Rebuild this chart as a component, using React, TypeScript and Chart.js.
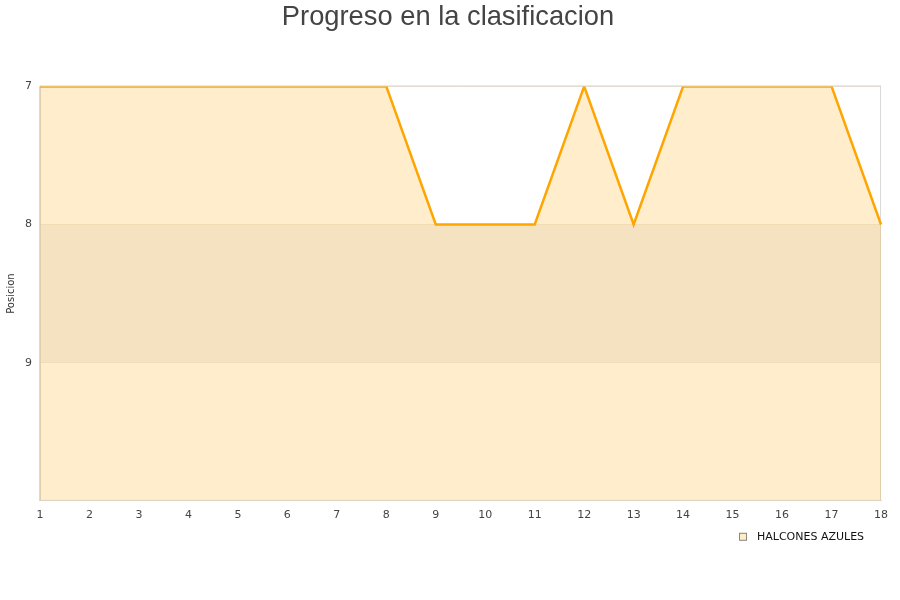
import React, { useEffect, useRef } from "react";
import { Chart, registerables } from "chart.js";

Chart.register(...registerables);

const jornadas = ["1", "2", "3", "4", "5", "6", "7", "8", "9", "10", "11", "12", "13", "14", "15", "16", "17", "18"];
const posiciones = [7, 7, 7, 7, 7, 7, 7, 7, 8, 8, 8, 7, 8, 7, 7, 7, 7, 8];
const equipo = "HALCONES AZULES";
const titulo = "Progreso en la clasificacion";
const ejeY = "Posicion";

// alternating background bands, plot frame, title and the legend entry
const decorPlugin = {
  id: "decor",
  beforeDatasetsDraw(chart: any) {
    const { ctx, chartArea, scales } = chart;
    const y = scales.y;
    ctx.save();
    ctx.fillStyle = "#f2f2f2";
    for (let v = 8; v < 10; v += 2) {
      const a = y.getPixelForValue(v);
      const b = y.getPixelForValue(v + 1);
      ctx.fillRect(chartArea.left, Math.min(a, b), chartArea.right - chartArea.left, Math.abs(b - a));
    }
    ctx.strokeStyle = "#d9d9d9";
    ctx.lineWidth = 1;
    ctx.strokeRect(chartArea.left + 0.5, chartArea.top - 0.5, chartArea.right - chartArea.left - 1, chartArea.bottom - chartArea.top);
    ctx.restore();
  },
  afterDraw(chart: any) {
    const { ctx, chartArea, width } = chart;
    ctx.save();

    // title
    ctx.fillStyle = "#444444";
    ctx.font = "27.3px 'Liberation Sans', Arial, sans-serif";
    ctx.textAlign = "center";
    ctx.textBaseline = "middle";
    ctx.fillText(titulo, width / 2 - 2, 17);

    // legend entry
    const bx = chartArea.right - 142;
    const by = chartArea.bottom + 32;
    ctx.fillStyle = "rgba(255,236,200,1)";
    ctx.fillRect(bx, by, 8, 8);
    ctx.strokeStyle = "#888888";
    ctx.lineWidth = 1;
    ctx.strokeRect(bx + 0.5, by + 0.5, 7, 7);
    ctx.fillStyle = "#111111";
    ctx.font = "11px 'DejaVu Sans', sans-serif";
    ctx.textBaseline = "middle";
    ctx.textAlign = "left";
    ctx.fillText(equipo, bx + 18, by + 4);
    ctx.restore();
  },
};

export default function App() {
  const ref = useRef<HTMLCanvasElement | null>(null);

  useEffect(() => {
    if (!ref.current) return;
    const chart = new Chart(ref.current, {
      type: "line",
      data: {
        labels: jornadas,
        datasets: [
          {
            label: equipo,
            data: posiciones,
            borderColor: "#FFA500",
            backgroundColor: "rgba(255,165,0,0.2)",
            borderWidth: 2.5,
            pointRadius: 0,
            tension: 0,
            fill: { value: 10 },
          },
        ],
      },
      options: {
        animation: false,
        responsive: false,
        maintainAspectRatio: false,
        layout: { padding: { top: 86.4, right: 19, bottom: 70, left: 5 } },
        plugins: {
          title: { display: false },
          legend: { display: false },
          tooltip: { enabled: false },
        },
        scales: {
          x: {
            type: "category",
            offset: false,
            grid: { display: false, drawTicks: false },
            border: { display: true, color: "#d9d9d9" },
            ticks: {
              color: "#444444",
              font: { family: "'DejaVu Sans', sans-serif", size: 11 },
              padding: 8,
              maxRotation: 0,
              autoSkip: false,
            },
          },
          y: {
            reverse: true,
            min: 7,
            max: 10,
            grid: { color: "rgba(190,165,120,0.35)", drawTicks: false },
            border: { display: true, color: "#d9d9d9" },
            ticks: {
              stepSize: 1,
              color: "#444444",
              font: { family: "'DejaVu Sans', sans-serif", size: 11 },
              padding: 8,
              callback: (v: any) => (Number(v) === 10 ? "" : String(v)),
            },
            title: {
              display: true,
              text: ejeY,
              color: "#333333",
              font: { family: "'DejaVu Sans', sans-serif", size: 10 },
              padding: { top: 0, bottom: 0 },
            },
          },
        },
      },
      plugins: [decorPlugin],
    });
    return () => chart.destroy();
  }, []);

  return (
    <div style={{ position: "absolute", left: 0, top: 0, width: 900, height: 600, background: "#fff" }}>
      <canvas ref={ref} width={900} height={600} />
    </div>
  );
}
